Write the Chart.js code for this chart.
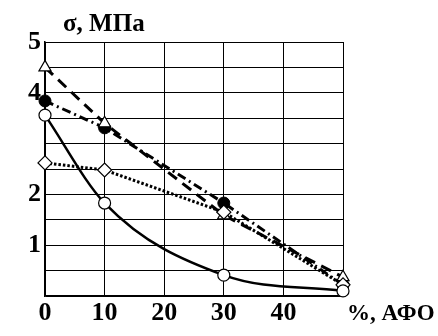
<!DOCTYPE html>
<html>
<head>
<meta charset="utf-8">
<script src="https://cdn.jsdelivr.net/npm/chart.js@4"></script>
<style>
html,body{margin:0;padding:0;background:#fff;}
#wrap{width:438px;height:336px;position:relative;}
</style>
</head>
<body>
<div id="wrap"><canvas id="c" width="438" height="336"></canvas></div>
<script>
const xValues = [0, 10, 30, 50];
const seriesOpenCircle = [3.56, 1.83, 0.41, 0.10];
const seriesFilledCircle = [3.84, 3.31, 1.83, 0.22];
const seriesTriangle = [4.50, 3.40, 1.59, 0.37];
const seriesDiamond = [2.62, 2.48, 1.65, 0.22];
const yTickLabels = [1, 2, 4, 5];
const xTickLabels = [0, 10, 20, 30, 40];
const yTitle = "σ, МПа";
const xTitle = "%, АФО";

const FONT = "'Liberation Serif', 'Times New Roman', serif";

function pts(vals){ return xValues.map((x,i)=>({x:x,y:vals[i]})); }

const titles = {
  id:'titles',
  afterDraw(chart){
    const ctx = chart.ctx, a = chart.chartArea;
    ctx.save();
    ctx.fillStyle = '#000';
    ctx.textBaseline = 'middle';
    ctx.textAlign = 'left';
    ctx.font = 'bold 25px ' + FONT;
    ctx.fillText(yTitle, a.left + 18, a.top - 17);
    ctx.font = 'bold 23px ' + FONT;
    ctx.fillText(xTitle, a.right + 4, a.bottom + 18);
    ctx.restore();
  }
};

new Chart(document.getElementById('c'), {
  type: 'line',
  data: {
    datasets: [
      { label:'open', data: pts(seriesOpenCircle), borderColor:'#000', borderWidth:2.5, clip:false,
        cubicInterpolationMode:'monotone', pointStyle:'circle', pointRadius:6,
        pointBackgroundColor:'#fff', pointBorderColor:'#000', pointBorderWidth:1.2, fill:false },
      { label:'diamond', data: pts(seriesDiamond), borderColor:'#000', borderWidth:3, clip:false,
        borderDash:[2.5,2], tension:0, pointStyle:'rectRot', pointRadius:7,
        pointBackgroundColor:'#fff', pointBorderColor:'#000', pointBorderWidth:1.2, fill:false },
      { label:'triangle', data: pts(seriesTriangle), borderColor:'#000', borderWidth:3, clip:false,
        borderDash:[11,7], tension:0, pointStyle:'triangle', pointRadius:7,
        pointBackgroundColor:'#fff', pointBorderColor:'#000', pointBorderWidth:1.2, fill:false },
      { label:'filled', data: pts(seriesFilledCircle), borderColor:'#000', borderWidth:3, clip:false,
        borderDash:[9,4,2,4], tension:0, pointStyle:'circle', pointRadius:6,
        pointBackgroundColor:'#000', pointBorderColor:'#000', pointBorderWidth:1, fill:false }
    ]
  },
  options: {
    responsive:false,
    animation:false,
    layout:{ padding:{ top:42, right:95, left:0, bottom:0 } },
    plugins:{ legend:{display:false}, tooltip:{enabled:false}, title:{display:false} },
    scales:{
      x:{ type:'linear', min:0, max:50,
        afterFit(s){ s.height = 40; },
        grid:{ color:'#000', lineWidth:1, drawTicks:false },
        border:{ color:'#000', width:1.5 },
        ticks:{ stepSize:10, padding:2, color:'#000', font:{family:FONT, size:26, weight:'bold'},
          maxRotation:0, autoSkip:false,
          callback(v){ return xTickLabels.includes(v) ? String(v) : ''; } }
      },
      y:{ type:'linear', min:0, max:5,
        afterFit(s){ s.width = 45; },
        grid:{ color:'#000', lineWidth:1, drawTicks:false },
        border:{ color:'#000', width:1.5 },
        ticks:{ stepSize:0.5, padding:4, color:'#000', font:{family:FONT, size:26, weight:'bold'},
          autoSkip:false,
          callback(v){ return yTickLabels.includes(v) ? String(v) : ''; } }
      }
    }
  },
  plugins:[titles]
});
</script>
</body>
</html>
